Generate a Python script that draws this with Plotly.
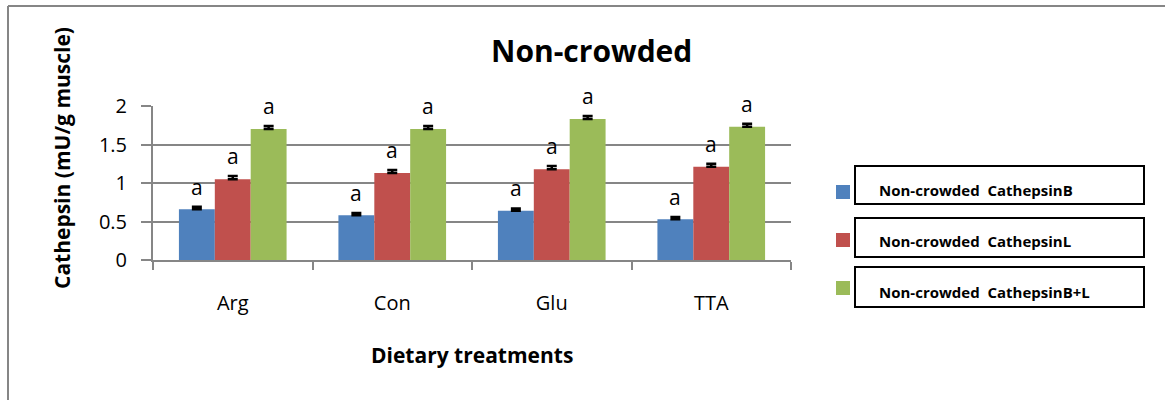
import plotly.graph_objects as go

# Dietary treatment groups and cathepsin activity (mU/g muscle)
treatments = ["Arg", "Con", "Glu", "TTA"]
series_names = ["Non-crowded  CathepsinB", "Non-crowded  CathepsinL", "Non-crowded  CathepsinB+L"]
cathepsin_b = [0.66, 0.58, 0.64, 0.53]
cathepsin_l = [1.05, 1.13, 1.18, 1.21]
cathepsin_bl = [1.70, 1.70, 1.83, 1.73]
err_b = [0.03, 0.03, 0.03, 0.03]
err_l = [0.04, 0.04, 0.04, 0.04]
err_bl = [0.04, 0.04, 0.04, 0.04]
letters_b = ["a", "a", "a", "a"]
letters_l = ["a", "a", "a", "a"]
letters_bl = ["a", "a", "a", "a"]

colors = ["#4F81BD", "#C0504D", "#9BBB59"]
FONT = "Open Sans, Liberation Sans, sans-serif"

W, H = 1165, 400
L, R, T, B = 153, 791, 106, 260  # plot area in pixels


def px(x):
    return (x - L) / (R - L)


def py(y):
    return (B - y) / (B - T)


values = [cathepsin_b, cathepsin_l, cathepsin_bl]
errors = [err_b, err_l, err_bl]
letters = [letters_b, letters_l, letters_bl]

fig = go.Figure()
for name, vals, errs, col in zip(series_names, values, errors, colors):
    fig.add_trace(go.Bar(
        x=treatments, y=vals, name=name, marker=dict(color=col, line=dict(width=0)),
        error_y=dict(type="data", symmetric=False, array=errs, arrayminus=[0] * len(errs),
                     color="black", thickness=2.5, width=5),
        showlegend=False,
    ))

annotations = []
bar_px = 36
for i, (vals, errs, labs) in enumerate(zip(values, errors, letters)):
    for cat, v, e, lab in zip(treatments, vals, errs, labs):
        annotations.append(dict(
            x=cat, y=v + e, xref="x", yref="y", text=lab, showarrow=False,
            xshift=(i - 1) * bar_px, yshift=20, xanchor="center", yanchor="middle",
            font=dict(family=FONT, size=21, color="black"),
        ))

# Title and axis titles
annotations.append(dict(x=px(591), y=py(50), xref="paper", yref="paper", text="<b>Non-crowded</b>",
                        showarrow=False, xanchor="center", yanchor="middle",
                        font=dict(family=FONT, size=30, color="black")))
annotations.append(dict(x=px(472), y=py(355), xref="paper", yref="paper", text="<b>Dietary treatments</b>",
                        showarrow=False, xanchor="center", yanchor="middle",
                        font=dict(family=FONT, size=21, color="black")))
annotations.append(dict(x=px(62), y=py(158), xref="paper", yref="paper", text="<b>Cathepsin (mU/g muscle)</b>",
                        showarrow=False, textangle=-90, xanchor="center", yanchor="middle",
                        font=dict(family=FONT, size=21, color="black")))

shapes = []
# Outer chart border (left and top edges)
shapes.append(dict(type="line", xref="paper", yref="paper", x0=px(8), x1=px(1170), y0=py(6), y1=py(6),
                   line=dict(color="#868686", width=2)))
shapes.append(dict(type="line", xref="paper", yref="paper", x0=px(8), x1=px(8), y0=py(6), y1=py(405),
                   line=dict(color="#868686", width=2)))

# Legend: colour swatch beside a framed label for each series
legend_boxes = [(166, 204), (218, 257), (267, 307)]
swatch_mid = [192, 240, 288]
text_mid = [190, 241, 292]
for (y0, y1), sm, tm, name, col in zip(legend_boxes, swatch_mid, text_mid, series_names, colors):
    shapes.append(dict(type="rect", xref="paper", yref="paper", x0=px(855), x1=px(1144),
                       y0=py(y1), y1=py(y0), line=dict(color="black", width=2), fillcolor="white"))
    shapes.append(dict(type="rect", xref="paper", yref="paper", x0=px(836), x1=px(850),
                       y0=py(sm + 7), y1=py(sm - 7), line=dict(width=0), fillcolor=col))
    annotations.append(dict(x=px(877), y=py(tm), xref="paper", yref="paper", text="<b>" + name + "</b>",
                            showarrow=False, xanchor="left", yanchor="middle",
                            font=dict(family=FONT, size=15, color="black")))

fig.update_layout(
    width=W, height=H, margin=dict(l=L, r=W - R, t=T, b=H - B),
    paper_bgcolor="white", plot_bgcolor="white",
    barmode="group", bargap=0.325, bargroupgap=0,
    annotations=annotations, shapes=shapes, showlegend=False,
    xaxis=dict(type="category", tickson="boundaries", ticks="outside", ticklen=8, tickwidth=2,
               tickcolor="#868686", showline=True, linecolor="#868686", linewidth=2,
               showgrid=False, tickfont=dict(family=FONT, size=20, color="black"),
               ticklabelstandoff=24),
    yaxis=dict(range=[0, 2], tickvals=[0, 0.5, 1, 1.5, 2], ticktext=["0", "0.5", "1", "1.5", "2"],
               ticks="outside", ticklen=10, tickwidth=2, tickcolor="#868686",
               showline=True, linecolor="#868686", linewidth=2,
               showgrid=True, gridcolor="#868686", gridwidth=2, zeroline=False,
               tickfont=dict(family=FONT, size=20, color="black"), ticklabelstandoff=10),
)

fig.write_html("out.html")
